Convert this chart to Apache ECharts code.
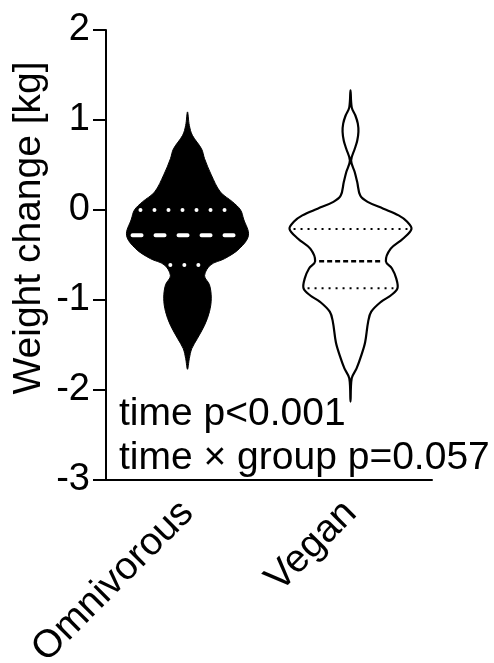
<!DOCTYPE html>
<html>
<head>
<meta charset="utf-8">
<script src="https://cdn.jsdelivr.net/npm/echarts@6/dist/echarts.min.js"></script>
<style>html,body{margin:0;padding:0;background:#fff}#c{width:494px;height:663px}</style>
</head>
<body>
<div id="c"></div>
<script>
const categories = ['Omnivorous', 'Vegan'];
const yTicks = [-3, -2, -1, 0, 1, 2];
const annotations = ['time p<0.001', 'time \u00d7 group p=0.057'];
const yAxisTitle = 'Weight change [kg]';

// violin outlines: value (kg) and relative density (half-width, 1 = widest)
const omnivorousY = [1.09, 0.94, 0.83, 0.68, 0.57, 0.39, 0.20, 0.09, 0.0, -0.10, -0.28, -0.43, -0.54, -0.61, -0.73, -0.83, -0.98, -1.13, -1.28, -1.43, -1.54, -1.65, -1.77];
const omnivorousDensity = [0, 0.03, 0.08, 0.23, 0.28, 0.39, 0.54, 0.74, 0.87, 0.92, 1.0, 0.85, 0.61, 0.38, 0.28, 0.36, 0.39, 0.36, 0.28, 0.16, 0.07, 0.03, 0];
const omnivorousQuartiles = [0.0, -0.28, -0.61]; // Q3, median, Q1

const veganY = [1.33, 1.14, 1.05, 0.96, 0.87, 0.77, 0.68, 0.55, 0.42, 0.31, 0.16, 0.09, 0.015, -0.06, -0.13, -0.21, -0.32, -0.43, -0.57, -0.65, -0.76, -0.87, -0.95, -1.02, -1.13, -1.24, -1.47, -1.61, -1.76, -1.87, -2.13];
const veganDensity = [0, 0.02, 0.08, 0.12, 0.13, 0.11, 0.07, 0.01, 0.07, 0.11, 0.16, 0.28, 0.54, 0.79, 0.93, 1.0, 0.86, 0.66, 0.58, 0.68, 0.75, 0.77, 0.66, 0.5, 0.34, 0.29, 0.24, 0.18, 0.1, 0.02, 0];
const veganQuartiles = [-0.21, -0.57, -0.87];

const FONT = '"Liberation Sans", Arial, sans-serif';

function densAt(ys, ds, v) {
  for (let i = 0; i < ys.length - 1; i++) {
    if (v <= ys[i] && v >= ys[i + 1]) {
      const t = (ys[i] - v) / (ys[i] - ys[i + 1]);
      return ds[i] + t * (ds[i + 1] - ds[i]);
    }
  }
  return 0;
}

function violinSeries(idx, ys, ds, quart, st) {
  return {
    type: 'custom',
    clip: false,
    data: [[idx]],
    renderItem: function (params, api) {
      const band = api.size([1, 0])[0];
      const maxHalf = band * 0.374;
      const cx = api.coord([api.value(0), 0])[0];
      const pts = [];
      ys.forEach((y, i) => pts.push([cx + ds[i] * maxHalf, api.coord([idx, y])[1]]));
      for (let i = ys.length - 2; i >= 1; i--) pts.push([cx - ds[i] * maxHalf, api.coord([idx, ys[i]])[1]]);
      const children = [{
        type: 'polygon',
        shape: { points: pts, smooth: 0.35 },
        style: { fill: st.fill, stroke: st.stroke, lineWidth: st.lineWidth, lineJoin: 'round' }
      }];
      quart.forEach((q, k) => {
        const w = densAt(ys, ds, q) * maxHalf - st.inset;
        const py = api.coord([idx, q])[1];
        const isMed = k === 1;
        children.push({
          type: 'line',
          shape: { x1: cx - w, y1: py, x2: cx + w, y2: py },
          style: isMed ? st.median : st.quart
        });
      });
      return { type: 'group', children: children };
    }
  };
}

const chart = echarts.init(document.getElementById('c'), null, { renderer: 'canvas' });
chart.setOption({
  animation: false,
  backgroundColor: '#fff',
  grid: { left: 106, right: 62, top: 30, bottom: 183, containLabel: false, outerBoundsMode: 'none' },
  xAxis: {
    type: 'category',
    data: categories,
    boundaryGap: true,
    axisLine: { onZero: false, lineStyle: { color: '#000', width: 2 } },
    axisTick: { alignWithLabel: true, length: 13, lineStyle: { color: '#000', width: 2 } },
    axisLabel: { rotate: 45, interval: 0, margin: 27, fontSize: 39, color: '#000', fontFamily: FONT }
  },
  yAxis: {
    type: 'value',
    min: yTicks[0], max: yTicks[yTicks.length - 1], interval: 1,
    splitLine: { show: false },
    axisLine: { show: true, lineStyle: { color: '#000', width: 2 } },
    axisTick: { show: true, length: 13, lineStyle: { color: '#000', width: 2 } },
    axisLabel: { margin: 16, fontSize: 38, color: '#000', fontFamily: FONT }
  },
  graphic: [
    { type: 'text', x: 29, y: 228, rotation: Math.PI / 2,
      style: { text: yAxisTitle, fontSize: 39, fontFamily: FONT, fill: '#000', align: 'center', verticalAlign: 'middle' } },
    { type: 'text', x: 119, y: 414,
      style: { text: annotations[0], fontSize: 39, fontFamily: FONT, fill: '#000', align: 'left', verticalAlign: 'middle' } },
    { type: 'text', x: 119, y: 458,
      style: { text: annotations[1], fontSize: 39, fontFamily: FONT, fill: '#000', align: 'left', verticalAlign: 'middle' } }
  ],
  series: [
    violinSeries(0, omnivorousY, omnivorousDensity, omnivorousQuartiles, {
      fill: '#000', stroke: '#000', lineWidth: 1, inset: 6,
      quart: { stroke: '#fff', lineWidth: 4, lineDash: [0.01, 14], lineCap: 'round' },
      median: { stroke: '#fff', lineWidth: 4, lineDash: [9, 14], lineCap: 'round' }
    }),
    violinSeries(1, veganY, veganDensity, veganQuartiles, {
      fill: '#fff', stroke: '#000', lineWidth: 2.2, inset: 4,
      quart: { stroke: '#000', lineWidth: 2, lineDash: [2, 5] },
      median: { stroke: '#000', lineWidth: 2.5, lineDash: [5, 3] }
    })
  ]
});
</script>
</body>
</html>
